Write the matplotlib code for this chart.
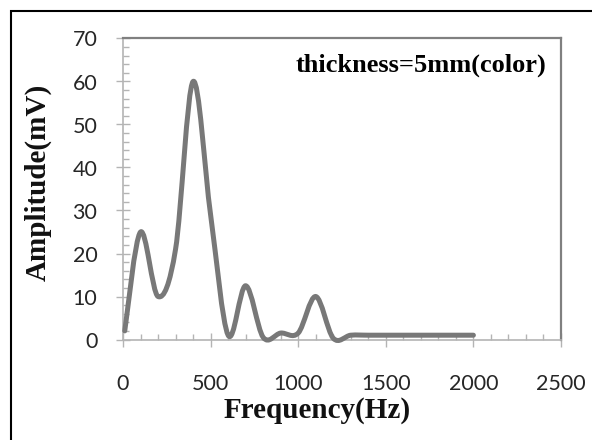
import numpy as np
import matplotlib
matplotlib.use('Agg')
import matplotlib.pyplot as plt
from matplotlib.path import Path
from matplotlib.patches import PathPatch, Rectangle
from matplotlib.ticker import MultipleLocator

# values
freq = [10, 100, 200, 300, 400, 500, 600, 700, 800, 900, 1000, 1100, 1200,
        1300, 1400, 1500, 1600, 1700, 1800, 1900, 2000]
amp = [2, 25, 10, 21, 60, 29, 1, 12.5, 0.5, 1.5, 1.5, 10, 0.3,
       1, 1, 1, 1, 1, 1, 1, 1]
x_ticks = [0, 500, 1000, 1500, 2000, 2500]
y_ticks = [0, 10, 20, 30, 40, 50, 60, 70]
note = 'thickness=5mm(color)'


def smooth_path(xs, ys):
    # excel style smoothed line: bezier segments through every point
    pts = np.column_stack([xs, ys]).astype(float)
    n = len(pts)
    verts = [pts[0]]
    codes = [Path.MOVETO]
    for i in range(n - 1):
        p0 = pts[max(i - 1, 0)]
        p3 = pts[min(i + 2, n - 1)]
        c1 = pts[i] + (pts[i + 1] - p0) / 6.0
        c2 = pts[i + 1] - (p3 - pts[i]) / 6.0
        verts += [c1, c2, pts[i + 1]]
        codes += [Path.CURVE4] * 3
    return Path(verts, codes)


fig = plt.figure(figsize=(5.92, 4.4), dpi=100)
ax = fig.add_axes([123 / 592, 1 - 339.5 / 440, (561 - 123) / 592, (339.5 - 38.5) / 440])

line = PathPatch(smooth_path(freq, amp), transform=ax.transData, fill=False,
                 edgecolor='#787878', lw=3.6, capstyle='round', joinstyle='round',
                 zorder=5, clip_on=False)
ax.add_patch(line)

ax.set_xlim(0, 2500)
ax.set_ylim(0, 70)
ax.set_xticks(x_ticks)
ax.set_yticks(y_ticks)
ax.xaxis.set_minor_locator(MultipleLocator(100))
ax.yaxis.set_minor_locator(MultipleLocator(2))

for s in ['left', 'bottom']:
    ax.spines[s].set_color('#b4b4b4')
    ax.spines[s].set_linewidth(1.2)
for s in ['top', 'right']:
    ax.spines[s].set_color('#808080')
    ax.spines[s].set_linewidth(1.6)

ax.tick_params(axis='both', which='both', color='#b4b4b4', width=1.0)
ax.tick_params(axis='y', which='major', direction='inout', length=10, pad=13.5)
ax.tick_params(axis='x', which='major', direction='inout', length=10, pad=20)
ax.tick_params(axis='both', which='minor', direction='in', length=4)
ax.tick_params(axis='both', which='major', labelcolor='#262626')

for lab in ax.get_xticklabels() + ax.get_yticklabels():
    lab.set_fontfamily('Lato')
    lab.set_fontsize(15.5)

ax.text(0.9657, 0.8905, note, transform=ax.transAxes, ha='right', va='baseline',
        family='Liberation Serif', fontweight='bold', fontsize=19, color='black')

fig.text(317 / 592, 1 - 418 / 440, 'Frequency(Hz)', ha='center', va='baseline',
         family='Liberation Serif', fontweight='bold', fontsize=21, color='#111111')
fig.text(38 / 592, 1 - 182 / 440, 'Amplitude(mV)', ha='center', va='center',
         rotation=90, family='Liberation Serif', fontweight='bold', fontsize=21,
         color='#111111')

# outer frame of the original screenshot (right and bottom edges cut off)
fig.patches.append(Rectangle((11 / 592, -0.1), 1.2, 1.1 - 11 / 440,
                             transform=fig.transFigure, fill=False,
                             edgecolor='black', lw=1.5))

fig.savefig('out.png', dpi=100)
